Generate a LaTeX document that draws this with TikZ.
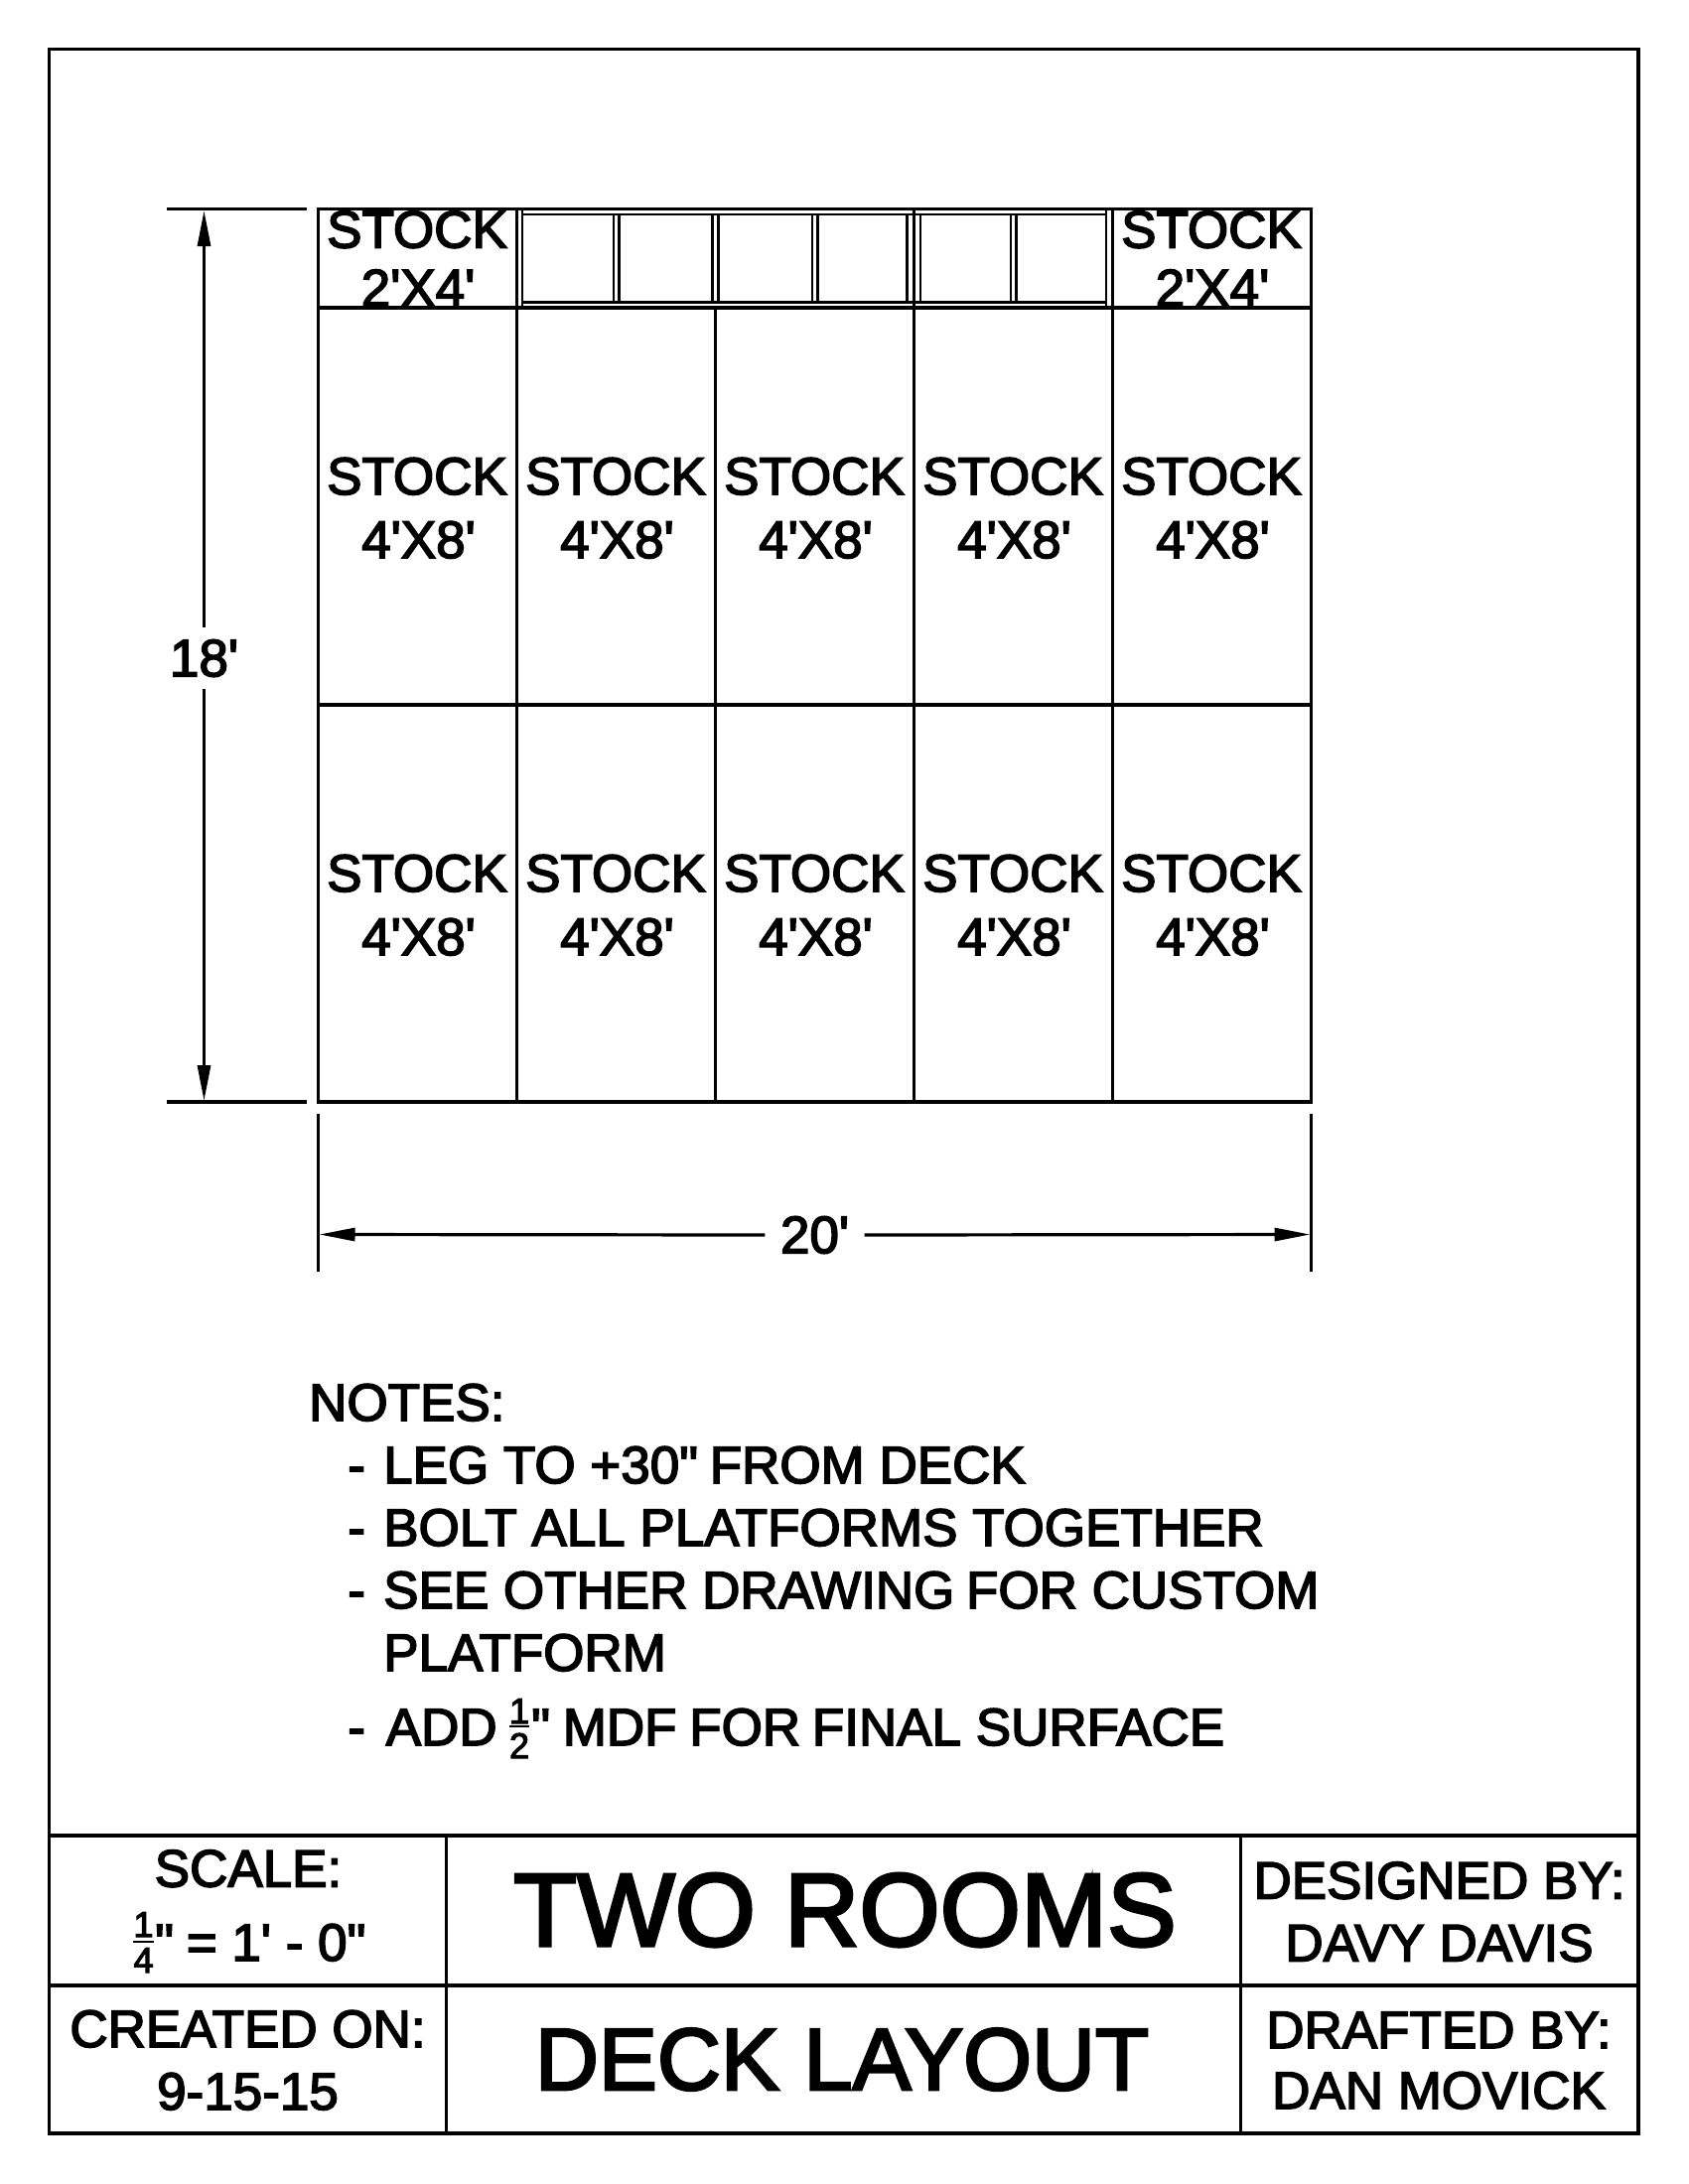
\documentclass[tikz,border=0pt]{standalone}
\usepackage{fontspec}
\setmainfont[Ligatures=TeXOff,FakeBold=3]{Liberation Sans}
\usetikzlibrary{arrows.meta}
\tikzset{
 x=1pt,y=-1pt,
 ln/.style={line width=3.2pt},
 fine/.style={line width=2.8pt},
 tx/.style={inner sep=0pt,anchor=base,font=\fontsize{53}{63}\selectfont},
 note/.style={inner sep=0pt,anchor=base west,font=\fontsize{53}{63}\selectfont},
 frac/.style={inner sep=0pt,anchor=base,font=\fontsize{36}{36}\selectfont},
 big/.style={inner sep=0pt,anchor=base,font=\fontsize{104.5}{104}\selectfont},
 mid/.style={inner sep=0pt,anchor=base,font=\fontsize{88.5}{89}\selectfont},
 dimline/.style={line width=3.2pt,-{Triangle[length=36pt,width=13pt]}},
 dimtext/.style={inner sep=0pt,font=\fontsize{53}{63}\selectfont}
}
\begin{document}
\begin{tikzpicture}
\useasboundingbox[fill=white] (0,0) rectangle (1700,2200);
% border and title block
\draw[ln] (49.5,49.5) rectangle (1650,2149);
\draw[ln] (49.5,1849)--(1650,1849);
\draw[ln] (49.5,2000)--(1650,2000);
\draw[ln] (449.5,1849)--(449.5,2149);
\draw[ln] (1249.5,1849)--(1249.5,2149);
% deck grid
\draw[ln] (320.5,210.5) rectangle (1320.5,1110);
\draw[ln] (320.5,310)--(1320.5,310);
\draw[ln] (320.5,710)--(1320.5,710);
\foreach \x in {520.5,920.5,1120.5} \draw[ln] (\x,210.5)--(\x,1110);
\draw[ln] (720.5,310)--(720.5,1110);
% custom platform in the top row
\draw[fine] (526,216)--(1114,216);
\draw[fine] (526,304.5)--(1114,304.5);
\foreach \x in {526,1114} \draw[fine] (\x,210.5)--(\x,310);
\foreach \x in {618,623.5,717.5,723.5,818,823.5,913.5,927,1018,1023.5} \draw[fine] (\x,216)--(\x,304.5);
% stock labels
\foreach \x/\n in {420/a,1220/b}{
 \node[tx] (s\n) at (\x,249.5) {STOCK};
 \node[tx] (d\n) at (\x+1,308.5) {2'X4'};
}
\foreach \x/\n in {420/a,620/b,820/c,1020/d,1220/e}{
 \node[tx] (m\n) at (\x,498) {STOCK};
 \node[tx] (n\n) at (\x+1.5,562) {4'X8'};
 \node[tx] (o\n) at (\x,898) {STOCK};
 \node[tx] (p\n) at (\x+1.5,962) {4'X8'};
}
% dimensions
\draw[ln] (168,210.5)--(309,210.5);
\draw[ln] (168,1110)--(309,1110);
\draw[ln] (320.5,1122)--(320.5,1281);
\draw[ln] (1320.5,1122)--(1320.5,1281);
\coordinate (vtop) at (205.5,212);
\coordinate (vbot) at (205.5,1109);
\coordinate (hl) at (321.5,1243.5);
\coordinate (hr) at (1319.5,1243.5);
\node[dimtext,minimum height=62pt,minimum width=1pt] (h18) at (205.5,663) {18'};
\node[dimtext,minimum width=100pt] (w20) at (820.5,1244) {20'};
\draw[dimline] (h18.north) -- (vtop);
\draw[dimline] (h18.south) -- (vbot);
\draw[dimline] (w20.west) -- (hl);
\draw[dimline] (w20.east) -- (hr);
% notes
\node[note] (n0) at (311,1431) {NOTES:};
\node[note] (d1) at (350,1494) {-};
\node[note] (n1) at (386,1494) {LEG TO +30"\kern-3pt{} FROM DECK};
\node[note] (d2) at (350,1557) {-};
\node[note] (n2) at (386,1557) {BOLT ALL PLATFORMS TOGETHER};
\node[note] (d3) at (350,1620) {-};
\node[note] (n3) at (386,1620) {SEE OTHER DRAWING\kern-3pt{} FOR CUSTOM};
\node[note] (n4) at (386,1683) {PLATFORM};
\node[note] (d5) at (350,1758) {-};
\node[note] (n5) at (388.5,1758) {ADD};
\node[frac] (f1) at (523,1736) {1};
\node[frac] (f2) at (523,1771) {2};
\draw[line width=2.5pt] (513,1739)--(533,1739);
\node[note] (n6) at (535,1758) {"\kern-2pt{} MDF\kern-2pt{} FOR\kern-3pt{} FINAL SURFACE};
% title block text
\node[tx] (t1) at (250,1900.5) {SCALE:};
\node[frac] (f3) at (144.5,1951) {1};
\node[frac] (f4) at (144.5,1987) {4};
\draw[line width=2.5pt] (134,1956)--(155,1956);
\node[note] (t2) at (156,1975) {"\kern-2pt{} = 1' - 0"};
\node[tx] (t3) at (249.5,2062) {CREATED ON:};
\node[tx] (t4) at (249.5,2125) {9-15-15};
\node[big] (t5) at (851,1960) {TWO ROOMS};
\node[mid] (t6) at (848,2105) {DECK LAYOUT};
\node[tx] (t7) at (1449.5,1912.5) {DESIGNED BY:};
\node[tx] (t8) at (1449.5,1975.5) {DAVY DAVIS};
\node[tx] (t9) at (1449,2063) {DRAFTED BY:};
\node[tx] (t10) at (1449,2124) {DAN MOVICK};
\end{tikzpicture}
\end{document}
